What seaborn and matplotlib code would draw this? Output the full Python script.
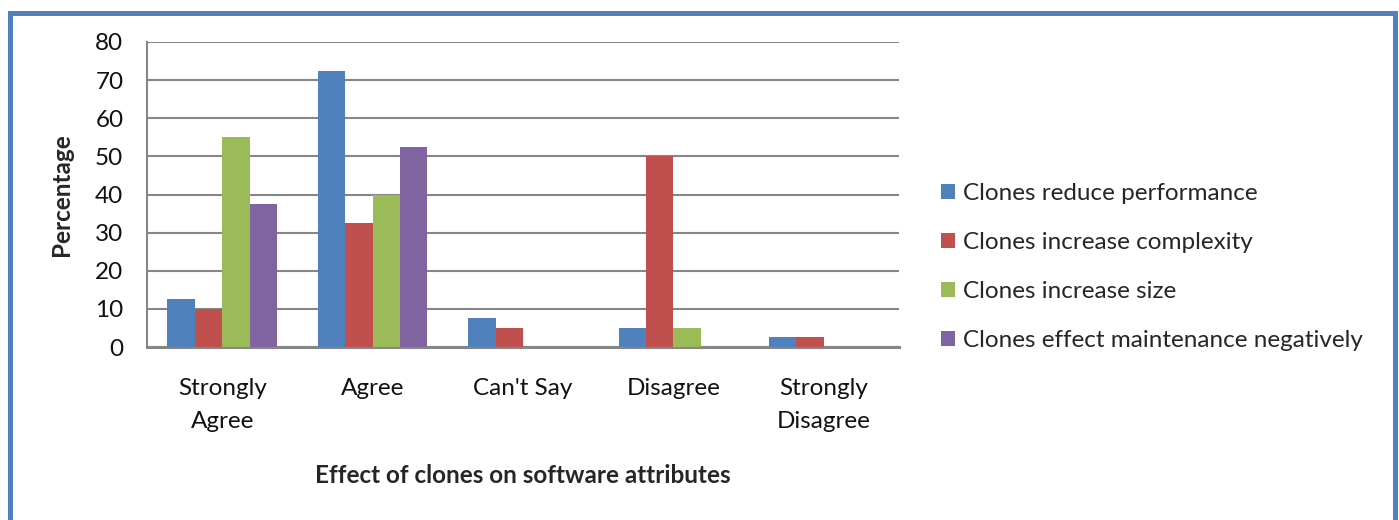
import matplotlib
matplotlib.use("Agg")
import matplotlib.pyplot as plt
import seaborn as sns
import pandas as pd
from matplotlib.patches import Rectangle

categories = ["Strongly\nAgree", "Agree", "Can't Say", "Disagree", "Strongly\nDisagree"]
series_names = [
    "Clones reduce performance",
    "Clones increase complexity",
    "Clones increase size",
    "Clones effect maintenance negatively",
]
reduce_performance = [12.5, 72.5, 7.5, 5, 2.5]
increase_complexity = [10, 32.5, 5, 50, 2.5]
increase_size = [55, 40, 0, 5, 0]
maintenance_negative = [37.5, 52.5, 0, 0, 0]
y_ticks = [0, 10, 20, 30, 40, 50, 60, 70, 80]

colors = ["#4F81BD", "#C0504D", "#9BBB59", "#8064A2"]

rows = []
for name, vals in zip(series_names,
                      [reduce_performance, increase_complexity, increase_size, maintenance_negative]):
    for cat, v in zip(categories, vals):
        rows.append({"Category": cat, "Series": name, "Value": v})
df = pd.DataFrame(rows)

sns.set_theme(style="white")
plt.rcParams["font.family"] = ["Lato", "DejaVu Sans"]

FS = 17.5

fig = plt.figure(figsize=(13.99, 5.2), dpi=100)
ax = fig.add_axes([147 / 1399, 1 - 347 / 520, (899 - 147) / 1399, (347 - 42) / 520])

sns.barplot(data=df, x="Category", y="Value", hue="Series", order=categories,
            hue_order=series_names, palette=colors, width=0.73, gap=0,
            saturation=1, errorbar=None, ax=ax, zorder=3, linewidth=0)

ax.set_ylim(0, 80)
ax.set_yticks(y_ticks)
ax.set_xlim(-0.5, len(categories) - 0.5)
ax.yaxis.grid(True, color="#868686", linewidth=1.5, zorder=0)
ax.set_axisbelow(True)
for side in ["top", "right"]:
    ax.spines[side].set_visible(False)
ax.spines["left"].set_color("#868686")
ax.spines["left"].set_linewidth(1.5)
ax.spines["bottom"].set_color("#868686")
ax.spines["bottom"].set_linewidth(2.2)
ax.tick_params(axis="y", length=0, pad=17, labelsize=FS, labelcolor="#111111")
ax.tick_params(axis="x", length=0, pad=22, labelsize=FS, labelcolor="#111111")
for lbl in ax.get_xticklabels():
    lbl.set_linespacing(1.76)

ax.set_ylabel("Percentage", fontsize=FS, fontweight="bold", labelpad=16)
ax.set_xlabel("Effect of clones on software attributes", fontsize=FS,
              fontweight="bold", labelpad=23)

handles, labels = ax.get_legend_handles_labels()
if ax.get_legend():
    ax.get_legend().remove()
fig.legend(handles, labels, loc="center left",
           bbox_to_anchor=(941 / 1399, 1 - 267 / 520), frameon=False,
           fontsize=FS, handlelength=0.58, handleheight=0.58,
           handletextpad=0.33, labelspacing=1.15, borderpad=0,
           borderaxespad=0)

# outer frame around the chart
frame = Rectangle((9.5 / 1399, -0.2), (1395 - 9.5) / 1399, 1.2 - 13 / 520,
                  transform=fig.transFigure, fill=False, edgecolor="#4F81BD",
                  linewidth=3.6, clip_on=False)
fig.patches.append(frame)

fig.savefig("out.png", dpi=100)
